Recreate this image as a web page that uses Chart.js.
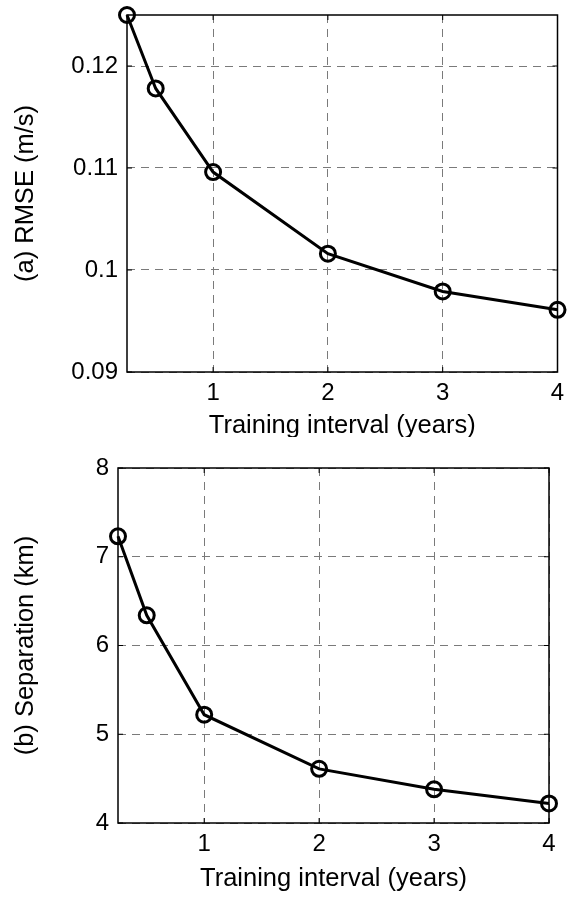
<!DOCTYPE html>
<html>
<head>
<meta charset="utf-8">
<script src="https://cdn.jsdelivr.net/npm/chart.js@4"></script>
<style>
  html, body { margin: 0; padding: 0; background: #fff; }
  #wrap { position: relative; width: 568px; height: 899px; overflow: hidden; }
  #clipA { position: absolute; left: 0; top: 0; width: 568px; height: 437px; overflow: hidden; }
  #boxB { position: absolute; left: 0; top: 440px; width: 568px; height: 459px; }
</style>
</head>
<body>
<div id="wrap">
  <div id="clipA"><canvas id="rmseChart" width="568" height="450"></canvas></div>
  <div id="boxB"><canvas id="sepChart" width="568" height="459"></canvas></div>
</div>
<script>
  // ── Data ──
  var intervals  = [0.25, 0.5, 1, 2, 3, 4];           // training interval (years)
  var rmse       = [0.1250, 0.1178, 0.1096, 0.1016, 0.0979, 0.0961];
  var separation = [7.23, 6.34, 5.22, 4.61, 4.38, 4.22];
  var xTicks     = [1, 2, 3, 4];
  var rmseTicks  = [0.09, 0.10, 0.11, 0.12];
  var sepTicks   = [4, 5, 6, 7, 8];

  var FONT = 'Liberation Sans, Arial, sans-serif';

  // box around plot area with inward tick marks (MATLAB look)
  var boxPlugin = {
    id: 'box',
    afterDatasetsDraw: function(chart) {
      var a = chart.chartArea, c = chart.ctx;
      var xs = chart.scales.x, ys = chart.scales.y;
      c.save();
      c.strokeStyle = '#000';
      c.lineWidth = 1.5;
      c.strokeRect(a.left, a.top, a.right - a.left, a.bottom - a.top);
      c.lineWidth = 1;
      c.beginPath();
      xs.ticks.forEach(function(t) {
        var px = xs.getPixelForValue(t.value);
        c.moveTo(px, a.bottom); c.lineTo(px, a.bottom - 5);
        c.moveTo(px, a.top);    c.lineTo(px, a.top + 5);
      });
      ys.ticks.forEach(function(t) {
        var py = ys.getPixelForValue(t.value);
        c.moveTo(a.left, py);  c.lineTo(a.left + 5, py);
        c.moveTo(a.right, py); c.lineTo(a.right - 5, py);
      });
      c.stroke();
      c.restore();
    }
  };

  function makeChart(id, values, yMin, yMax, yTickList, yTitle, cfg) {
    var ctx = document.getElementById(id).getContext('2d');
    return new Chart(ctx, {
      type: 'line',
      data: {
        datasets: [{
          data: intervals.map(function(x, i) { return { x: x, y: values[i] }; }),
          borderColor: '#000',
          borderWidth: 3,
          pointRadius: 7.5,
          pointBorderWidth: 3,
          pointBorderColor: '#000',
          pointBackgroundColor: 'rgba(0,0,0,0)',
          tension: 0,
          fill: false,
          clip: false
        }]
      },
      plugins: [boxPlugin],
      options: {
        responsive: false,
        animation: false,
        layout: { padding: { top: cfg.top, right: cfg.right, bottom: 0, left: 0 } },
        plugins: { legend: { display: false }, tooltip: { enabled: false } },
        scales: {
          x: {
            type: 'linear',
            min: 0.25,
            max: 4,
            afterBuildTicks: function(s) { s.ticks = xTicks.map(function(v) { return { value: v }; }); },
            afterFit: function(s) {
              s.height = cfg.xHeight;
              s.paddingLeft = 0; s.paddingRight = 0;
            },
            grid: { color: '#7a7a7a', lineWidth: 1, drawTicks: false },
            border: { display: false, dash: [8, 6] },
            ticks: { padding: 7, color: '#000', font: { family: FONT, size: 24 } },
            title: {
              display: true,
              text: 'Training interval (years)',
              color: '#000',
              font: { family: FONT, size: 25.5 },
              padding: { top: 0, bottom: cfg.titlePad }
            }
          },
          y: {
            type: 'linear',
            min: yMin,
            max: yMax,
            afterBuildTicks: function(s) { s.ticks = yTickList.map(function(v) { return { value: v }; }); },
            afterFit: function(s) {
              s.width = cfg.yWidth;
              s.paddingTop = 0; s.paddingBottom = 0;
            },
            grid: { color: '#7a7a7a', lineWidth: 1, drawTicks: false },
            border: { display: false, dash: [8, 6] },
            ticks: {
              padding: 9,
              color: '#000',
              font: { family: FONT, size: 24 },
              callback: function(v) { return String(+v.toFixed(3)); }
            },
            title: {
              display: true,
              text: yTitle,
              color: '#000',
              font: { family: FONT, size: 25.5 },
              padding: { top: 11, bottom: 0 }
            }
          }
        }
      }
    });
  }

  makeChart('rmseChart', rmse, 0.09, 0.125, rmseTicks, '(a) RMSE (m/s)',
            { top: 15, right: 9, yWidth: 127, xHeight: 78, titlePad: 9 });
  makeChart('sepChart', separation, 4, 8, sepTicks, '(b) Separation (km)',
            { top: 28, right: 19, yWidth: 118, xHeight: 76, titlePad: 5 });
</script>
</body>
</html>
